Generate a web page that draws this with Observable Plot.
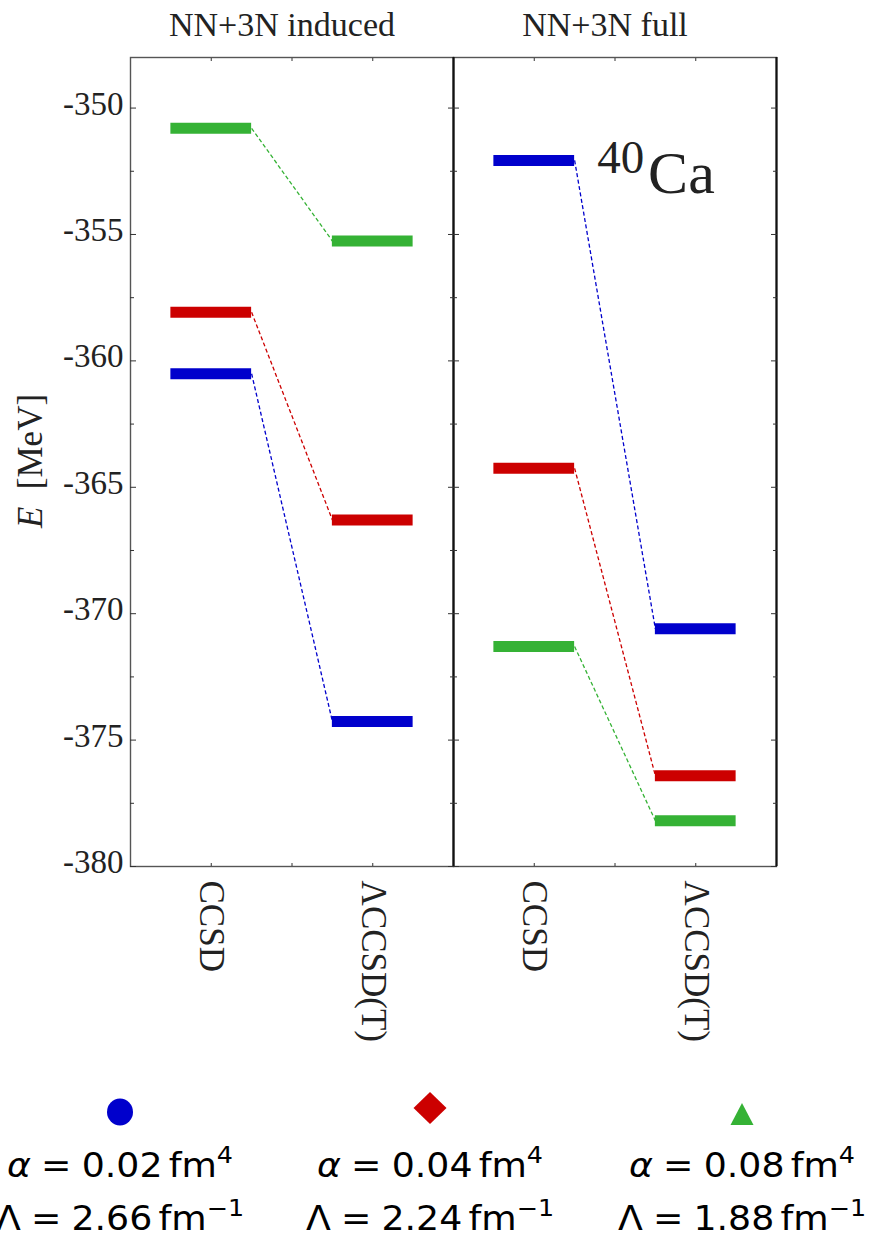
<!DOCTYPE html>
<html><head><meta charset="utf-8">
<script src="https://cdn.jsdelivr.net/npm/d3@7"></script>
<script src="https://cdn.jsdelivr.net/npm/@observablehq/plot@0.6"></script>
<style>
body{margin:0;width:870px;height:1233px;overflow:hidden;position:relative;background:#fff}
#chart{position:absolute;left:0;top:0}
.ylab{position:absolute;left:31px;top:461px;transform:translate(-50%,-50%) rotate(-90deg);font-family:"Liberation Serif",serif;font-size:35px;white-space:nowrap;color:#222}
.leg{position:absolute;top:1141px;font-family:"DejaVu Sans",sans-serif;font-size:33px;line-height:50px;color:#000;white-space:nowrap;text-align:center;transform:translateX(-50%) scaleX(1.1)}
.leg .eq{margin:0 0.28em}
.leg .th{margin-left:0.17em}
.leg .sp{font-size:0.7em;position:relative;top:-0.6em}
#markers{position:absolute;left:0;top:1085px}
</style></head><body>
<div id="chart"></div>
<div class="ylab"><i>E</i>&nbsp;&nbsp;[MeV]</div>
<svg id="markers" width="870" height="50"></svg>
<div id="legend"></div>
<script>
// ---- data ----
const panels = ["NN+3N induced", "NN+3N full"];
const methods = ["CCSD", "ΛCCSD(T)"];
const series = ["0.02", "0.04", "0.08"];
const lambdas = ["2.66", "2.24", "1.88"];
const colors = ["#0000cc", "#cc0000", "#35b235"];
const inducedCCSD  = [-360.51, -358.08, -350.80];
const inducedLCCSD = [-374.26, -366.29, -355.26];
const fullCCSD     = [-352.07, -364.25, -371.30];
const fullLCCSD    = [-370.60, -376.41, -378.19];
const yMajorTicks = [-350, -355, -360, -365, -370, -375, -380];
const yMinorTicks = [-352.5, -357.5, -362.5, -367.5, -372.5, -377.5];
const yDomain = [-380, -348];
const nucleus = {mass: "40", symbol: "Ca", panel: "NN+3N full"};

// ---- build tables ----
const values = {
  "NN+3N induced": [inducedCCSD, inducedLCCSD],
  "NN+3N full": [fullCCSD, fullLCCSD]
};
const slot = i => 2 * i + 1; // category slot centre on a 0..4 axis
const rows = [];
const links = [];
for (const p of panels) {
  series.forEach((s, k) => {
    methods.forEach((m, i) => rows.push({panel: p, series: s, method: m, xc: slot(i), E: values[p][i][k]}));
    links.push({panel: p, series: s, E1: values[p][0][k], E2: values[p][1][k]});
  });
}
const slots = methods.map((m, i) => slot(i));
const allSlots = [1, 2, 3];
const edges = [{panel: "NN+3N full", x: 0}, {panel: "NN+3N full", x: 4}];
const serif = "Liberation Serif";

const chart = Plot.plot({
  width: 870,
  height: 1085,
  marginLeft: 130,
  marginRight: 94,
  marginTop: 57,
  marginBottom: 219,
  style: {fontFamily: serif, color: "#222", background: "#fff"},
  fx: {domain: panels, padding: 0, axis: null, label: null},
  x: {domain: [0, 4], axis: null},
  y: {domain: yDomain, axis: null},
  color: {domain: series, range: colors},
  marks: [
    Plot.frame({stroke: "#555", strokeWidth: 1.4}),
    Plot.ruleX(edges, {fx: "panel", x: "x", stroke: "#111", strokeWidth: 2.2}),
    // inward ticks
    Plot.axisY({ticks: yMajorTicks, tickSize: -6, text: null, label: null, facetAnchor: null, stroke: "#333"}),
    Plot.axisY({ticks: yMinorTicks, tickSize: -4, text: null, label: null, facetAnchor: null, stroke: "#333"}),
    Plot.axisY({anchor: "right", ticks: yMajorTicks, tickSize: -6, text: null, label: null, facetAnchor: null, stroke: "#333"}),
    Plot.axisY({anchor: "right", ticks: yMinorTicks, tickSize: -4, text: null, label: null, facetAnchor: null, stroke: "#333"}),
    Plot.axisX({anchor: "bottom", ticks: allSlots, tickSize: -3, text: null, label: null, stroke: "#333"}),
    Plot.axisX({anchor: "top", ticks: allSlots, tickSize: -3, text: null, label: null, facetAnchor: null, stroke: "#333"}),
    // labels
    Plot.axisY({ticks: yMajorTicks, tickSize: 0, tickPadding: 7, dy: -4, fontSize: 33, label: null, tickFormat: d => String(d)}),
    Plot.axisX({anchor: "bottom", ticks: slots, tickFormat: d => methods[(d - 1) / 2], tickRotate: 90, tickSize: 0, tickPadding: 14, fontSize: 35, label: null}),
    Plot.text(panels, {fx: d => d, text: d => d, frameAnchor: "top", lineAnchor: "bottom", dy: -22, dx: -10, fontSize: 34, fill: "#222"}),
    // connectors
    Plot.link(links, {fx: "panel", x1: 1.5, x2: 2.5, y1: "E1", y2: "E2", stroke: "series", strokeWidth: 1.3, strokeDasharray: "4,2.5"}),
    // levels
    Plot.ruleY(rows, {fx: "panel", y: "E", x1: d => d.xc - 0.5, x2: d => d.xc + 0.5, stroke: "series", strokeWidth: 11}),
    // nucleus label
    Plot.text([nucleus], {fx: "panel", x: 1.78, y: -352.57, text: "mass", fontSize: 47, textAnchor: "start", lineAnchor: "bottom", fill: "#222"}),
    Plot.text([nucleus], {fx: "panel", x: 2.41, y: -353.36, text: "symbol", fontSize: 60, textAnchor: "start", lineAnchor: "bottom", fill: "#222"})
  ]
});
document.getElementById("chart").appendChild(chart);

// ---- legend ----
const centers = [120, 430, 742];
const svgNS = "http://www.w3.org/2000/svg";
const mk = document.getElementById("markers");
const shapes = [
  c => `<ellipse cx="${c}" cy="27" rx="13" ry="13.5" fill="${colors[0]}"/>`,
  c => `<path d="M${c},7 L${c + 16.5},23 L${c},39 L${c - 16.5},23 Z" fill="${colors[1]}"/>`,
  c => `<path d="M${c},18 L${c + 11.5},40 L${c - 11.5},40 Z" fill="${colors[2]}"/>`
];
mk.innerHTML = centers.map((c, i) => shapes[i](c)).join("");
const leg = document.getElementById("legend");
leg.innerHTML = series.map((s, i) =>
  `<div class="leg" style="left:${centers[i]}px"><i>α</i><span class="eq">=</span>${s}<span class="th"></span>fm<span class="sp">4</span><br>Λ<span class="eq">=</span>${lambdas[i]}<span class="th"></span>fm<span class="sp">−1</span></div>`
).join("");
</script>
</body></html>
